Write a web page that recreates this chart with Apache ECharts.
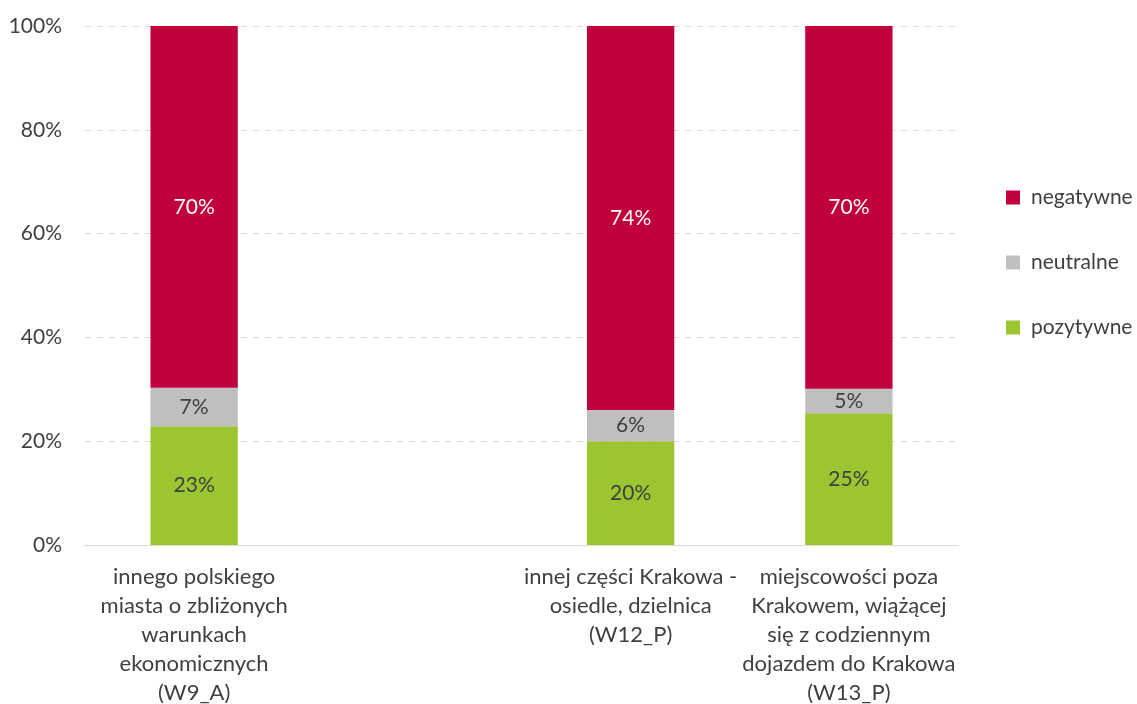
<!DOCTYPE html>
<html><head><meta charset="utf-8">
<script src="https://cdn.jsdelivr.net/npm/echarts@6/dist/echarts.min.js"></script>
<style>html,body{margin:0;padding:0;background:#fff}#c{width:1137px;height:704px}</style>
</head><body><div id="c"></div>
<script>
const categories = [
  'innego polskiego\nmiasta o zbliżonych\nwarunkach\nekonomicznych\n(W9_A)',
  '',
  'innej części Krakowa -\nosiedle, dzielnica\n(W12_P)',
  'miejscowości poza\nKrakowem, wiążącej\nsię z codziennym\ndojazdem do Krakowa\n(W13_P)'
];
const pozytywne = [22.9, null, 20.0, 25.4];
const neutralne = [7.4, null, 6.0, 4.7];
const negatywne = [69.7, null, 74.0, 69.9];
const yTicks = [0, 20, 40, 60, 80, 100];

const FONT = 'Lato, "Open Sans", sans-serif';
const chart = echarts.init(document.getElementById('c'));
function lbl(color){
  return {show:true, position:'inside', color:color, fontSize:21, fontFamily:FONT,
    formatter: p => p.value == null ? '' : Math.round(p.value) + '%'};
}
chart.setOption({
  animation:false,
  textStyle:{fontFamily:FONT},
  grid:{left:85, right:179, top:26, bottom:159, outerBoundsMode:'none', containLabel:false},
  legend:{
    orient:'vertical', left:1001, top:182, itemGap:44, itemWidth:14, itemHeight:14,
    icon:'rect', data:['negatywne','neutralne','pozytywne'],
    textStyle:{fontSize:21, color:'#404040', fontFamily:FONT, padding:[0,0,0,6]}
  },
  xAxis:{
    type:'category', data:categories,
    axisLine:{lineStyle:{color:'#D9D9D9', width:1}},
    axisTick:{show:false},
    axisLabel:{interval:0, fontSize:22, color:'#404040', lineHeight:29, margin:17, fontFamily:FONT}
  },
  yAxis:{
    type:'value', min:0, max:100, interval:20,
    axisLabel:{formatter: v => yTicks.includes(v) ? v + '%' : '', fontSize:21, color:'#404040', margin:23, fontFamily:FONT},
    axisLine:{show:false}, axisTick:{show:false},
    splitLine:{lineStyle:{color:'#D9D9D9', type:[6,6], width:1}}
  },
  series:[
    {name:'pozytywne', type:'bar', stack:'s', data:pozytywne, barWidth:'40%', itemStyle:{color:'#9BC531'}, label:lbl('#404040')},
    {name:'neutralne', type:'bar', stack:'s', data:neutralne, itemStyle:{color:'#BFBFBF'}, label:lbl('#404040')},
    {name:'negatywne', type:'bar', stack:'s', data:negatywne, itemStyle:{color:'#C0003C'}, label:lbl('#FFFFFF')}
  ]
});
</script></body></html>
